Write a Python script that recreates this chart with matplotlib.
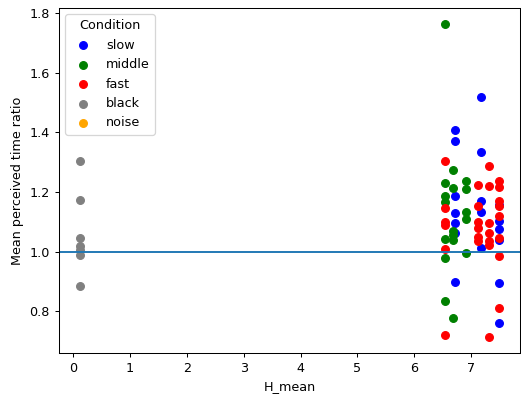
import matplotlib
matplotlib.use("Agg")
import matplotlib.pyplot as plt

conditions = ["slow", "middle", "fast", "black", "noise"]
colors = ["blue", "green", "red", "gray", "orange"]

slow_h = [6.72]*7 + [7.18]*5 + [7.49]*6
slow_r = [1.408, 1.371, 1.188, 1.13, 1.098, 1.064, 0.90,
          1.52, 1.334, 1.169, 1.135, 1.012,
          1.158, 1.102, 1.076, 1.04, 0.895, 0.762]

middle_h = [6.54]*7 + [6.68]*6 + [6.91]*5
middle_r = [1.765, 1.231, 1.188, 1.166, 1.043, 0.979, 0.836,
            1.273, 1.214, 1.07, 1.055, 1.04, 0.777,
            1.236, 1.21, 1.135, 1.11, 0.995]

fast_h = [6.54]*6 + [7.12]*6 + [7.32]*7 + [7.49]*8
fast_r = [1.305, 1.148, 1.10, 1.09, 1.009, 0.721,
          1.225, 1.152, 1.10, 1.08, 1.05, 1.035,
          1.289, 1.22, 1.096, 1.063, 1.035, 1.024, 0.713,
          1.236, 1.217, 1.169, 1.152, 1.119, 1.046, 0.987, 0.811]

black_h = [0.12]*7
black_r = [1.305, 1.175, 1.045, 1.02, 1.005, 0.99, 0.885]

noise_h = []
noise_r = []

series = [(slow_h, slow_r), (middle_h, middle_r), (fast_h, fast_r),
          (black_h, black_r), (noise_h, noise_r)]

DPI = 92
fig = plt.figure(figsize=(521 / DPI, 398 / DPI), dpi=DPI)
ax = fig.add_axes([0.113, 0.113, 0.885, 0.867])
for name, col, (h, r) in zip(conditions, colors, series):
    ax.scatter(h, r, color=col, label=name)
ax.axhline(1.0)
ax.set_xlabel("H_mean")
ax.set_ylabel("Mean perceived time ratio")
ax.legend(title="Condition", loc="upper left")
fig.savefig("out.png", dpi=DPI)
